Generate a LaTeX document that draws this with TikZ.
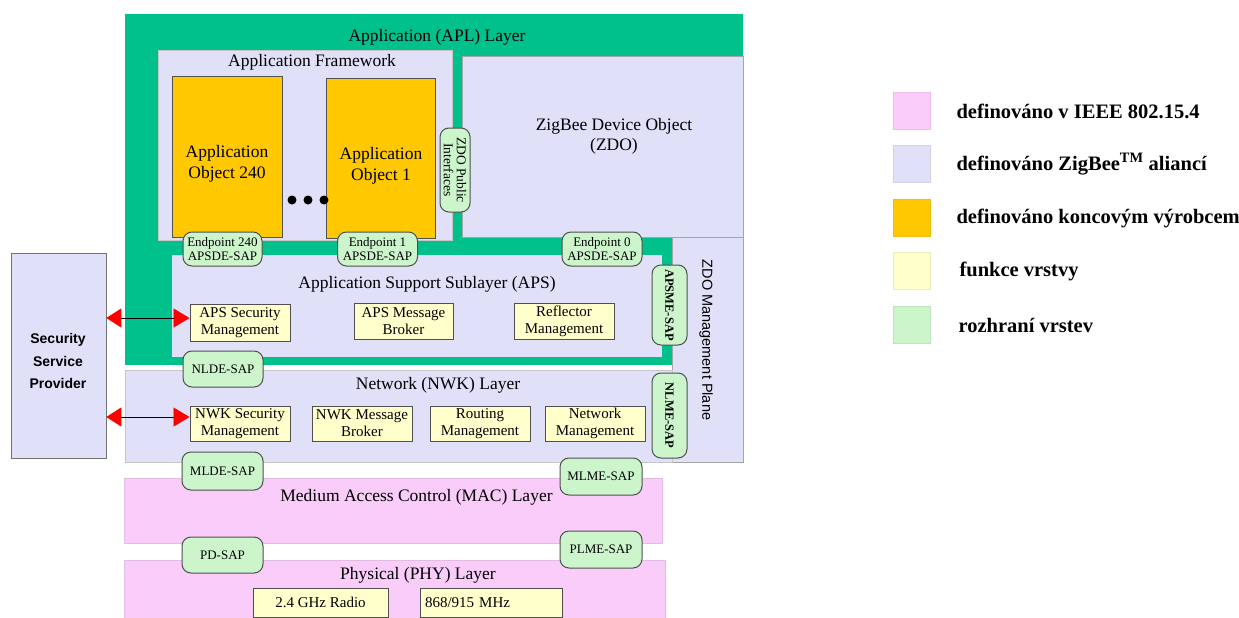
\documentclass[tikz,border=0pt]{standalone}
\usepackage{fontspec}
\setmainfont{Liberation Serif}
\setsansfont{Liberation Sans}
\usetikzlibrary{arrows.meta}
\definecolor{aplgreen}{RGB}{0,192,140}
\definecolor{lav}{RGB}{224,224,248}
\definecolor{pinkl}{RGB}{250,204,250}
\definecolor{orng}{RGB}{255,200,0}
\definecolor{yel}{RGB}{255,255,204}
\definecolor{sapg}{RGB}{204,245,204}
\definecolor{bord}{RGB}{80,80,80}
\newcommand\fsz[2]{\fontsize{#1}{#2}\selectfont}
\tikzset{
  layer/.style={draw=gray!45, line width=0.6pt, inner sep=0pt},
  lavbox/.style={layer, fill=lav},
  pinkbox/.style={layer, draw=pinkl!80!gray, fill=pinkl},
  appobj/.style={draw=bord, fill=orng, line width=0.8pt, inner sep=0pt},
  func/.style={draw=bord, fill=yel, line width=1pt, align=center, inner sep=0pt, font=\fsz{15}{17}},
  sap/.style={draw=bord, fill=sapg, rounded corners=9pt, line width=1pt, align=center, inner sep=0pt, font=\fsz{13}{14}},
  vsap/.style={sap, rotate=-90, font=\bfseries\fsz{12.5}{14}},
  title/.style={font=\fsz{17.5}{20}, align=center},
  legsq/.style={minimum width=37pt, minimum height=37pt, inner sep=0pt, line width=0.5pt},
  legtxt/.style={anchor=west, font=\bfseries\fsz{20.5}{22}},
  dot/.style={circle, fill=black, minimum size=9pt, inner sep=0pt},
  secarrow/.style={line width=0.8pt, {Triangle[length=15pt,width=19pt,color=red]}-{Triangle[length=16pt,width=19pt,color=red]}}
}
\begin{document}
\begin{tikzpicture}[x=1pt,y=-1pt]
\useasboundingbox (0,0) rectangle (1239,618);
% APL layer (green)
\node[fill=aplgreen, minimum width=618pt, minimum height=351pt, inner sep=0pt] (apl) at (434,189.5) {};
\node[title] (aplt) at (437,37) {Application (APL) Layer};
% Application framework
\node[lavbox, minimum width=294pt, minimum height=190pt] (af) at (305,145) {};
\node[title] (aft) at (312,62) {Application Framework};
\node[appobj, minimum width=110pt, minimum height=161pt] (ao240) at (227,156.5) {};
\node[title, font=\fsz{17.5}{21}] (ao240t) at (227,164) {Application\\Object 240};
\node[appobj, minimum width=109pt, minimum height=160pt] (ao1) at (380.5,158) {};
\node[title, font=\fsz{17.5}{21}] (ao1t) at (381,166) {Application\\Object 1};
\node[dot] (d1) at (292,200) {};
\node[dot] (d2) at (308,200) {};
\node[dot] (d3) at (324,200) {};
% ZDO
\node[lavbox, draw=gray!70, minimum width=281pt, minimum height=181pt] (zdo) at (602.5,146.5) {};
\node[title] (zdot) at (614,136) {ZigBee Device Object\\(ZDO)};
\node[sap, rotate=-90, minimum width=84pt, minimum height=30pt, font=\fsz{13.5}{13}] (zpi) at (455,170) {ZDO Public\\Interfaces};
% APS
\node[lavbox, draw=none, minimum width=490pt, minimum height=102pt] (aps) at (417,306) {};
\node[title] (apst) at (427,284) {Application Support Sublayer (APS)};
\node[func, minimum width=100pt, minimum height=37pt] (apssec) at (240,322.5) {APS Security\\Management};
\node[func, minimum width=99pt, minimum height=36pt] (apsmsg) at (403.5,321) {APS Message\\Broker};
\node[func, minimum width=100pt, minimum height=36pt] (refl) at (564,321) {Reflector\\Management};
% ZDO management plane
\node[lavbox, draw=gray!70, minimum width=71pt, minimum height=225pt] (zmp) at (707.5,349.5) {};
\node[rotate=-90, font=\sffamily\fsz{14.5}{16}] (zmpt) at (706,340) {ZDO Management Plane};
% Endpoints
\node[sap, minimum width=79pt, minimum height=34pt] (ep240) at (222.5,249) {Endpoint 240\\APSDE-SAP};
\node[sap, minimum width=80pt, minimum height=34pt] (ep1) at (377.5,249) {Endpoint 1\\APSDE-SAP};
\node[sap, minimum width=80pt, minimum height=34pt] (ep0) at (602,249) {Endpoint 0\\APSDE-SAP};
\node[vsap, minimum width=80pt, minimum height=35pt] (apsme) at (669.5,305) {APSME-SAP};
% NWK
\node[lavbox, minimum width=547pt, minimum height=92pt] (nwk) at (398.5,416) {};
\node[title] (nwkt) at (438,385) {Network (NWK) Layer};
\node[sap, minimum width=80pt, minimum height=36pt] (nlde) at (223,369) {NLDE-SAP};
\node[func, minimum width=100pt, minimum height=35pt] (nwksec) at (240,423.5) {NWK Security\\Management};
\node[func, minimum width=100pt, minimum height=35pt] (nwkmsg) at (362,423.5) {NWK Message\\Broker};
\node[func, minimum width=100pt, minimum height=35pt] (rout) at (480,423.5) {Routing\\Management};
\node[func, minimum width=100pt, minimum height=35pt] (netm) at (595,423.5) {Network\\Management};
\node[vsap, minimum width=85pt, minimum height=35pt] (nlme) at (669.5,415.5) {NLME-SAP};
% Security service provider
\node[lavbox, draw=bord!80, minimum width=95pt, minimum height=205pt] (ssp) at (58.5,355.5) {};
\node[font=\sffamily\bfseries\fsz{14}{22.5}, align=center] (sspt) at (58,361) {Security\\Service\\Provider};
\draw[secarrow] ([yshift=4.5pt]ssp.east |- apssec.west) -- ([yshift=4.5pt]apssec.west);
\draw[secarrow] ([yshift=6.5pt]ssp.east |- nwksec.west) -- ([yshift=6.5pt]nwksec.west);
% MAC
\node[pinkbox, minimum width=538pt, minimum height=65pt] (mac) at (393,510.5) {};
\node[title] (mact) at (416.5,497) {Medium Access Control (MAC) Layer};
\node[sap, minimum width=81pt, minimum height=38pt] (mlde) at (222.5,471) {MLDE-SAP};
\node[sap, minimum width=82pt, minimum height=37pt] (mlme) at (601,476.5) {MLME-SAP};
% PHY
\node[pinkbox, minimum width=541pt, minimum height=58pt] (phy) at (394.5,589) {};
\node[title] (phyt) at (418,575) {Physical (PHY) Layer};
\node[sap, minimum width=81pt, minimum height=36pt] (pd) at (222.5,555) {PD-SAP};
\node[sap, minimum width=82pt, minimum height=37pt] (plme) at (601,549.5) {PLME-SAP};
\node[func, minimum width=135pt, minimum height=29pt] (radio) at (320.5,602.5) {2.4 GHz Radio};
\node[func, minimum width=142pt, minimum height=29pt, text width=132pt, align=left] (mhz) at (491,602.5) {868/915 MHz};
% Legend
\node[legsq, fill=pinkl, draw=pinkl!85!gray] (lg1) at (911.5,110.5) {};
\node[legsq, fill=lav, draw=lav!85!gray] (lg2) at (911.5,163.5) {};
\node[legsq, fill=orng, draw=orng!85!gray] (lg3) at (911.5,217.5) {};
\node[legsq, fill=yel, draw=yel!85!gray] (lg4) at (911.5,270.5) {};
\node[legsq, fill=sapg, draw=sapg!85!gray] (lg5) at (911.5,324.5) {};
\node[legtxt] (lt1) at (953,111) {definováno v IEEE 802.15.4};
\node[legtxt] (lt2) at (953,164) {definováno ZigBee\textsuperscript{TM} aliancí};
\node[legtxt] (lt3) at (953,218) {definováno koncovým výrobcem};
\node[legtxt] (lt4) at (956,271) {funkce vrstvy};
\node[legtxt] (lt5) at (955,325) {rozhraní vrstev};
\end{tikzpicture}
\end{document}
